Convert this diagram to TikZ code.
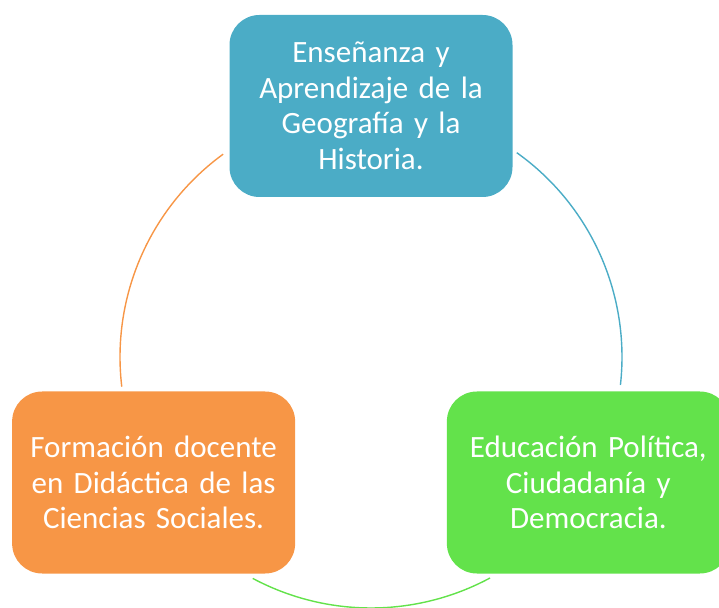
\documentclass[tikz,border=0pt]{standalone}
\usepackage{fontspec}
\setmainfont{Carlito}
\usepackage{tikz}
\usetikzlibrary{calc,positioning}
\definecolor{cteal}{HTML}{4BACC6}
\definecolor{corange}{HTML}{F79646}
\definecolor{cgreen}{HTML}{63E24B}
\tikzset{
  cyclebox/.style={rounded corners=30pt, minimum width=283pt, minimum height=182pt,
    text width=275pt, align=center, text=white, inner sep=0pt,
    font=\fontsize{31}{35.5}\selectfont},
  cyclearc/.style={line width=1.4pt}
}
\begin{document}
\begin{tikzpicture}[x=1pt,y=1pt]
\useasboundingbox (0,0) rectangle (719,607);
\coordinate (c) at (371,250);
\path (c) ++(90:251) node[cyclebox, fill=cteal] (geo) {Enseñanza y\\Aprendizaje de la\\Geografía y la\\Historia.};
\path (c) ++(210:251) node[cyclebox, fill=corange] (form) {Formación docente\\en Didáctica de las\\Ciencias Sociales.};
\path (c) ++(-30:251) node[cyclebox, fill=cgreen] (edu) {Educación Política,\\Ciudadanía y\\Democracia.};

\coordinate (geoR) at ($(c)+(54.5:251)$);
\coordinate (geoL) at ($(c)+(126.1:251)$);
\coordinate (formB) at ($(c)+(241.9:251)$);
\draw[cyclearc, cteal] (geoR) arc[start angle=54.5, end angle=-6.4, radius=251];
\draw[cyclearc, corange] (geoL) arc[start angle=126.1, end angle=186.8, radius=251];
\draw[cyclearc, cgreen] (formB) arc[start angle=241.9, end angle=298.3, radius=251];
\end{tikzpicture}
\end{document}
